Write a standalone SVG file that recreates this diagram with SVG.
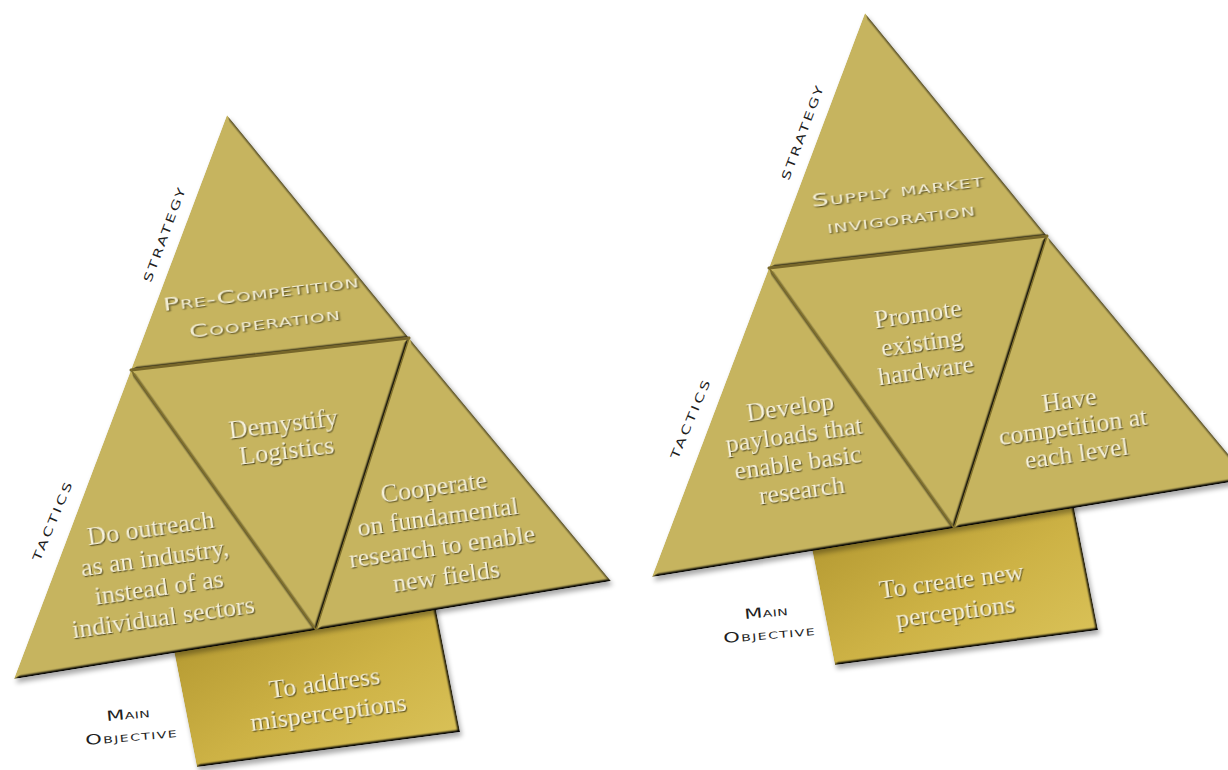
<svg xmlns="http://www.w3.org/2000/svg" width="1228" height="770" viewBox="0 0 1228 770">
<defs>
  <filter id="bevel" x="-5%" y="-5%" width="110%" height="110%" color-interpolation-filters="sRGB">
    <feGaussianBlur in="SourceAlpha" stdDeviation="1.8" result="b"/>
    <feDiffuseLighting in="b" surfaceScale="3" diffuseConstant="1.33" lighting-color="#ffffff" result="d">
      <feDistantLight azimuth="225" elevation="50"/>
    </feDiffuseLighting>
    <feComposite in="SourceGraphic" in2="d" operator="arithmetic" k1="1" k2="0" k3="0" k4="0" result="lit"/>
    <feComposite in="lit" in2="SourceAlpha" operator="in"/>
  </filter>
  <filter id="drop" x="-10%" y="-10%" width="120%" height="120%">
    <feGaussianBlur stdDeviation="2.5"/>
  </filter>
  <filter id="emb" x="-10%" y="-30%" width="120%" height="160%" color-interpolation-filters="sRGB">
    <feDropShadow dx="0.8" dy="1.2" stdDeviation="0.7" flood-color="#3a320e" flood-opacity="0.8"/>
  </filter>
  <linearGradient id="boxGrad" x1="0" y1="0" x2="1" y2="1">
    <stop offset="0" stop-color="#ad922c"/>
    <stop offset="0.55" stop-color="#cdb245"/>
    <stop offset="1" stop-color="#dcc55c"/>
  </linearGradient>
  <style>
    .piece { fill:#C6B45F; filter:url(#bevel); }
    .box { fill:url(#boxGrad); filter:url(#bevel); }
    .shadow { fill:#000; opacity:0.33; filter:url(#drop); }
    .groove { stroke:#7f6f2c; stroke-width:1.6; fill:none; stroke-linecap:round; }
    .groove2 { stroke:#76662a; stroke-width:3; fill:none; stroke-linecap:round; }
    .t { font-family:"Liberation Serif","Times New Roman",serif; font-size:26px; fill:#f7f2dc; text-anchor:middle; filter:url(#emb); }
    .sc { font-family:"DejaVu Sans","Liberation Sans",sans-serif; font-variant:small-caps; text-anchor:middle; }
    .scIn { fill:#f3eed5; font-size:18px; filter:url(#emb); }
    .scOut { fill:#1e1e1e; font-size:17px; }
    .scObj { fill:#1e1e1e; font-size:14px; }
  </style>
</defs>
<rect width="1228" height="770" fill="#ffffff"/>

<g id="connectors"/>

<!-- LEFT DIAGRAM -->
<g id="left-objective">
  <polygon class="shadow" points="170,630 433,595 460,732 197,767" transform="translate(2,4)"/>
  <polygon class="box" points="170,630 433,595 460,732 197,767"/>
  <text class="t" transform="rotate(-7.5 326.5 698)"><tspan x="326.5" y="691">To address</tspan><tspan x="326.5" y="721">misperceptions</tspan></text>
</g>
<g id="left-pyramid-shadow">
  <polygon class="shadow" points="227,115 611,581 14,679" transform="translate(2,4)"/>
</g>
<g id="left-strategy">
  <polygon class="piece" points="227,115 409,338 131,370"/>
  <text class="sc scIn" transform="translate(262.5,308) rotate(-7) scale(1.5,1)" x="0" y="-9" textLength="131" lengthAdjust="spacing">Pre-Competition</text>
  <text class="sc scIn" transform="translate(262.5,308) rotate(-7) scale(1.5,1)" x="0" y="21" textLength="101" lengthAdjust="spacing">Cooperation</text>
</g>
<g id="left-tactic-outreach">
  <polygon class="piece" points="131,370 316,630 14,679"/>
  <text class="t" transform="rotate(-8 157 573)"><tspan x="157" y="536">Do outreach</tspan><tspan x="157" y="566">as an industry,</tspan><tspan x="157" y="596">instead of as</tspan><tspan x="157" y="626">individual sectors</tspan></text>
</g>
<g id="left-tactic-demystify">
  <polygon class="piece" points="131,370 409,338 316,630"/>
  <text class="t" transform="rotate(-7 285 437)"><tspan x="285" y="431.5">Demystify</tspan><tspan x="285" y="458.5">Logistics</tspan></text>
</g>
<g id="left-tactic-cooperate">
  <polygon class="piece" points="409,338 611,581 316,630"/>
  <text class="t" transform="rotate(-8 440 532)"><tspan x="440" y="495">Cooperate</tspan><tspan x="440" y="525">on fundamental</tspan><tspan x="440" y="555">research to enable</tspan><tspan x="440" y="585">new fields</tspan></text>
</g>
<g id="left-grooves">
  <line class="groove2" x1="131" y1="370" x2="409" y2="338"/>
  <line class="groove" x1="131" y1="370" x2="316" y2="630"/>
  <line class="groove" x1="409" y1="338" x2="316" y2="630"/>
</g>
<g id="left-label-strategy">
  <text class="sc scOut" transform="translate(164.5,235) rotate(-69.5) scale(1.4,1)" x="0" y="4" textLength="71" lengthAdjust="spacing">strategy</text>
</g>
<g id="left-label-tactics">
  <text class="sc scOut" transform="translate(52.5,521.5) rotate(-67) scale(1.4,1)" x="0" y="4" textLength="60" lengthAdjust="spacing">tactics</text>
</g>
<g id="left-label-objective">
  <text class="sc scObj" transform="translate(128,715) rotate(-5) scale(1.5,1)" x="0" y="4" textLength="29" lengthAdjust="spacing">Main</text>
  <text class="sc scObj" transform="translate(131,737) rotate(-5) scale(1.5,1)" x="0" y="4" textLength="61" lengthAdjust="spacing">Objective</text>
</g>

<!-- RIGHT DIAGRAM -->
<g id="right-objective">
  <polygon class="shadow" points="808,528 1071,493 1098,630 835,665" transform="translate(2,4)"/>
  <polygon class="box" points="808,528 1071,493 1098,630 835,665"/>
  <text class="t" transform="rotate(-7.5 953.5 596)"><tspan x="953.5" y="588.5">To create new</tspan><tspan x="953.5" y="619.5">perceptions</tspan></text>
</g>
<g id="right-pyramid-shadow">
  <polygon class="shadow" points="865,13 1249,479 652,577" transform="translate(2,4)"/>
</g>
<g id="right-strategy">
  <polygon class="piece" points="865,13 1047,236 769,268"/>
  <text class="sc scIn" transform="translate(899,204.5) rotate(-7) scale(1.5,1)" x="0" y="-8.5" textLength="115" lengthAdjust="spacing">Supply market</text>
  <text class="sc scIn" transform="translate(899,204.5) rotate(-7) scale(1.5,1)" x="0" y="20.5" textLength="99" lengthAdjust="spacing">invigoration</text>
</g>
<g id="right-tactic-payloads">
  <polygon class="piece" points="769,268 954,528 652,577"/>
  <text class="t" transform="rotate(-8 796 449)"><tspan x="796" y="415">Develop</tspan><tspan x="796" y="443">payloads that</tspan><tspan x="796" y="471">enable basic</tspan><tspan x="796" y="499">research</tspan></text>
</g>
<g id="right-tactic-hardware">
  <polygon class="piece" points="769,268 1047,236 954,528"/>
  <text class="t" transform="rotate(-8 922 343)"><tspan x="922" y="322.5">Promote</tspan><tspan x="922" y="351">existing</tspan><tspan x="922" y="379.5">hardware</tspan></text>
</g>
<g id="right-tactic-competition">
  <polygon class="piece" points="1047,236 1249,479 954,528"/>
  <text class="t" transform="rotate(-8 1073 427)"><tspan x="1073" y="408">Have</tspan><tspan x="1073" y="435">competition at</tspan><tspan x="1073" y="462">each level</tspan></text>
</g>
<g id="right-grooves">
  <line class="groove2" x1="769" y1="268" x2="1047" y2="236"/>
  <line class="groove" x1="769" y1="268" x2="954" y2="528"/>
  <line class="groove" x1="1047" y1="236" x2="954" y2="528"/>
</g>
<g id="right-label-strategy">
  <text class="sc scOut" transform="translate(802.5,133) rotate(-69.5) scale(1.4,1)" x="0" y="4" textLength="71" lengthAdjust="spacing">strategy</text>
</g>
<g id="right-label-tactics">
  <text class="sc scOut" transform="translate(690.5,419.5) rotate(-67) scale(1.4,1)" x="0" y="4" textLength="60" lengthAdjust="spacing">tactics</text>
</g>
<g id="right-label-objective">
  <text class="sc scObj" transform="translate(766,613) rotate(-5) scale(1.5,1)" x="0" y="4" textLength="29" lengthAdjust="spacing">Main</text>
  <text class="sc scObj" transform="translate(769,635) rotate(-5) scale(1.5,1)" x="0" y="4" textLength="61" lengthAdjust="spacing">Objective</text>
</g>
</svg>
